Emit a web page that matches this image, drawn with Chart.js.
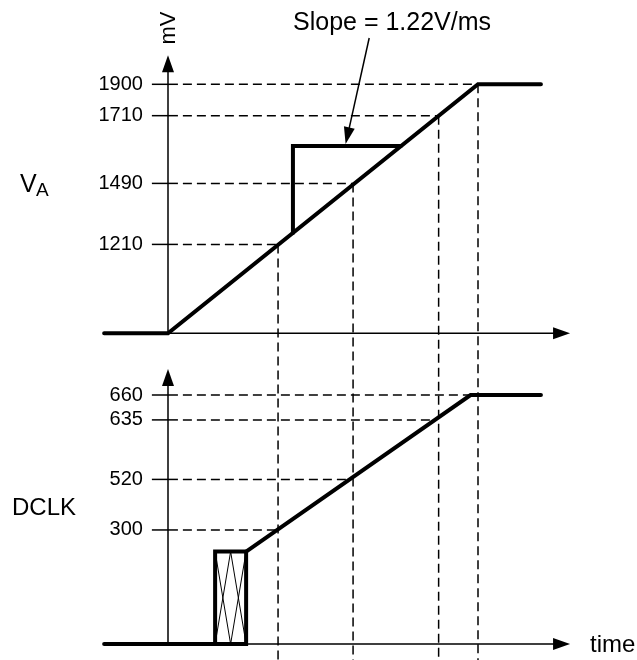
<!DOCTYPE html>
<html>
<head>
<meta charset="utf-8">
<script src="https://cdn.jsdelivr.net/npm/chart.js"></script>
<style>
  html, body { margin: 0; padding: 0; background: #fff; }
  canvas { display: block; }
</style>
</head>
<body>
<canvas id="chart" width="637" height="660"></canvas>
<script>
// schematic units: time 0 = start of VA ramp, 100 = VA reaches 1900 mV
// level 0 = panel baseline, 100 = full swing of that panel

const vaTickLevels = [100, 87.4, 60.2, 35.7];
const vaTickLabels = ['1900', '1710', '1490', '1210'];
const vaCrossTimes = [100, 87.3, 59.7, 35.5];

const vaRampTime = [-20.6, 0, 100, 120.3];
const vaRampLevel = [0, 0, 100, 100];

const vaStepTime = [40.3, 40.3, 75.1];
const vaStepLevel = [40.3, 75.2, 75.2];

const dclkTickLevels = [100, 90.0, 66.1, 45.8];
const dclkTickLabels = ['660', '635', '520', '300'];
const dclkCrossTimes = [97.6, 86.3, 58.8, 35.5];

const dclkLineTime = [-20.6, 15.2, 15.2, 25.2, 25.2, 15.2];
const dclkLineLevel = [0, 0, 37.1, 37.1, 0, 0];

const dclkRampTime = [25.2, 97.6, 120.3];
const dclkRampLevel = [37.1, 100, 100];

// hatch lines inside the DCLK box: [top time, bottom time]
const hatchTimes = [[15.2, 20.2], [20.2, 15.2], [20.2, 25.2], [25.2, 20.2]];
const hatchLevels = [37.1, 0];

// layout (pixels / schematic time)
const W = 637, H = 660;
const AXIS_X = 168;
const PX_PER_T = 3.1;
const PX_PER_LEVEL = 2.49;
const VA_BASE = 333.3;
const DCLK_BASE = 644;
const TIME_AXIS_END = 129.7;
const LABEL_T = -8.1;      // right edge of tick labels
const TICK_FROM = -5.2;    // tick mark span
const TICK_TO = 3.2;
const DASH_FROM = 4.8;
const FONT = 'Liberation Sans, Arial, sans-serif';

Chart.defaults.font.family = FONT;

const vaMin = -(H - VA_BASE) / PX_PER_LEVEL;
const vaMax = VA_BASE / PX_PER_LEVEL;
const dclkMin = -(H - DCLK_BASE) / PX_PER_LEVEL;
const dclkMax = DCLK_BASE / PX_PER_LEVEL;

function pts(xs, ys) {
  return xs.map((x, i) => ({ x: x, y: ys[i] }));
}

const thick = { borderColor: '#000', borderWidth: 4, pointRadius: 0, fill: false, clip: false,
  borderCapStyle: 'round', borderJoinStyle: 'miter' };
const thin = { borderColor: '#000', borderWidth: 1.5, pointRadius: 0, fill: false, clip: false };
const dashed = { ...thin, borderDash: [9, 5] };

const datasets = [];
vaTickLevels.forEach((lv, i) => {
  datasets.push({ ...thin, yAxisID: 'yA', data: [{ x: TICK_FROM, y: lv }, { x: TICK_TO, y: lv }] });
  datasets.push({ ...dashed, yAxisID: 'yA', data: [{ x: DASH_FROM, y: lv }, { x: vaCrossTimes[i], y: lv }] });
  datasets.push({ ...dashed, yAxisID: 'yA', data: [{ x: vaCrossTimes[i], y: lv }, { x: vaCrossTimes[i], y: vaMin }] });
});
dclkTickLevels.forEach((lv, i) => {
  datasets.push({ ...thin, yAxisID: 'yD', data: [{ x: TICK_FROM, y: lv }, { x: TICK_TO, y: lv }] });
  datasets.push({ ...dashed, yAxisID: 'yD', data: [{ x: DASH_FROM, y: lv }, { x: dclkCrossTimes[i], y: lv }] });
});
const hatchData = [];
hatchTimes.forEach(h => {
  hatchData.push({ x: h[0], y: hatchLevels[0] }, { x: h[1], y: hatchLevels[1] }, { x: h[1], y: null });
});
datasets.push({ borderColor: '#000', borderWidth: 1, pointRadius: 0, fill: false, spanGaps: false,
  yAxisID: 'yD', data: hatchData });
datasets.push({ ...thick, yAxisID: 'yA', data: pts(vaRampTime, vaRampLevel) });
datasets.push({ ...thick, yAxisID: 'yA', data: pts(vaStepTime, vaStepLevel) });
datasets.push({ ...thick, yAxisID: 'yD', data: pts(dclkLineTime, dclkLineLevel) });
datasets.push({ ...thick, yAxisID: 'yD', data: pts(dclkRampTime, dclkRampLevel) });

function noPad(s) {
  s.paddingTop = 0; s.paddingBottom = 0; s.paddingLeft = 0; s.paddingRight = 0;
}

function yAxis(min, max, levels, labels) {
  return {
    type: 'linear',
    axis: 'y',
    position: { x: LABEL_T },
    min: min,
    max: max,
    afterBuildTicks: s => { s.ticks = levels.map(v => ({ value: v })); },
    afterFit: noPad,
    ticks: {
      autoSkip: false,
      callback: (v, i) => labels[i],
      color: '#000',
      font: { family: FONT, size: 20 }
    },
    grid: { display: false },
    border: { display: false }
  };
}

function arrowHead(ctx, tx, ty, dx, dy, len, half) {
  const bx = tx - dx * len, by = ty - dy * len;
  ctx.beginPath();
  ctx.moveTo(tx, ty);
  ctx.lineTo(bx - dy * half, by + dx * half);
  ctx.lineTo(bx + dy * half, by - dx * half);
  ctx.closePath();
  ctx.fill();
}

const diagram = {
  id: 'diagram',
  beforeDatasetsDraw(chart) {
    const ctx = chart.ctx;
    const x = chart.scales.x;
    const x0 = x.getPixelForValue(0);
    const xEnd = x.getPixelForValue(TIME_AXIS_END);
    const panels = [['yA', 29], ['yD', 26]];
    ctx.save();
    ctx.strokeStyle = '#000';
    ctx.fillStyle = '#000';
    ctx.lineWidth = 1.5;
    panels.forEach(p => {
      const s = chart.scales[p[0]];
      const y0 = s.getPixelForValue(0);
      const yTip = s.getPixelForValue(100) - p[1];
      ctx.beginPath();
      ctx.moveTo(x0, y0);
      ctx.lineTo(x0, yTip + 10);
      ctx.moveTo(x0, y0);
      ctx.lineTo(xEnd - 10, y0);
      ctx.stroke();
      arrowHead(ctx, x0, yTip, 0, -1, 17, 6);
      arrowHead(ctx, xEnd, y0, 1, 0, 17, 6);
    });
    ctx.restore();
  },
  afterDraw(chart) {
    const ctx = chart.ctx;
    const x = chart.scales.x;
    const yA = chart.scales.yA;
    const yD = chart.scales.yD;
    ctx.save();
    ctx.fillStyle = '#000';
    ctx.strokeStyle = '#000';
    ctx.textBaseline = 'alphabetic';
    ctx.textAlign = 'left';

    // slope annotation
    ctx.font = '25px ' + FONT;
    ctx.fillText('Slope = 1.22V/ms', 293, 30);
    const tipX = x.getPixelForValue(57.3), tipY = yA.getPixelForValue(75.2) - 2;
    const tailX = x.getPixelForValue(64.9), tailY = 38;
    const len = Math.hypot(tipX - tailX, tipY - tailY);
    const dx = (tipX - tailX) / len, dy = (tipY - tailY) / len;
    ctx.lineWidth = 1.5;
    ctx.beginPath();
    ctx.moveTo(tailX, tailY);
    ctx.lineTo(tipX - dx * 10, tipY - dy * 10);
    ctx.stroke();
    arrowHead(ctx, tipX, tipY, dx, dy, 17, 5.5);

    // panel names
    ctx.font = '25px ' + FONT;
    ctx.fillText('V', 20, 192);
    ctx.font = '19px ' + FONT;
    ctx.fillText('A', 36, 196);
    ctx.font = '24px ' + FONT;
    ctx.fillText('DCLK', 12, 515);
    ctx.fillText('time', 590, yD.getPixelForValue(0) + 8);

    // unit label
    ctx.save();
    ctx.translate(x.getPixelForValue(0) + 7, 28);
    ctx.rotate(-Math.PI / 2);
    ctx.textAlign = 'center';
    ctx.font = '22px ' + FONT;
    ctx.fillText('mV', 0, 0);
    ctx.restore();
    ctx.restore();
  }
};

new Chart(document.getElementById('chart'), {
  type: 'line',
  data: { datasets: datasets },
  options: {
    responsive: false,
    animation: false,
    devicePixelRatio: 1,
    layout: { padding: 0 },
    plugins: { legend: { display: false }, tooltip: { enabled: false } },
    scales: {
      x: {
        type: 'linear',
        min: -AXIS_X / PX_PER_T,
        max: (W - AXIS_X) / PX_PER_T,
        display: false,
        afterFit: noPad
      },
      yA: yAxis(vaMin, vaMax, vaTickLevels, vaTickLabels),
      yD: yAxis(dclkMin, dclkMax, dclkTickLevels, dclkTickLabels)
    }
  },
  plugins: [diagram]
});
</script>
</body>
</html>
